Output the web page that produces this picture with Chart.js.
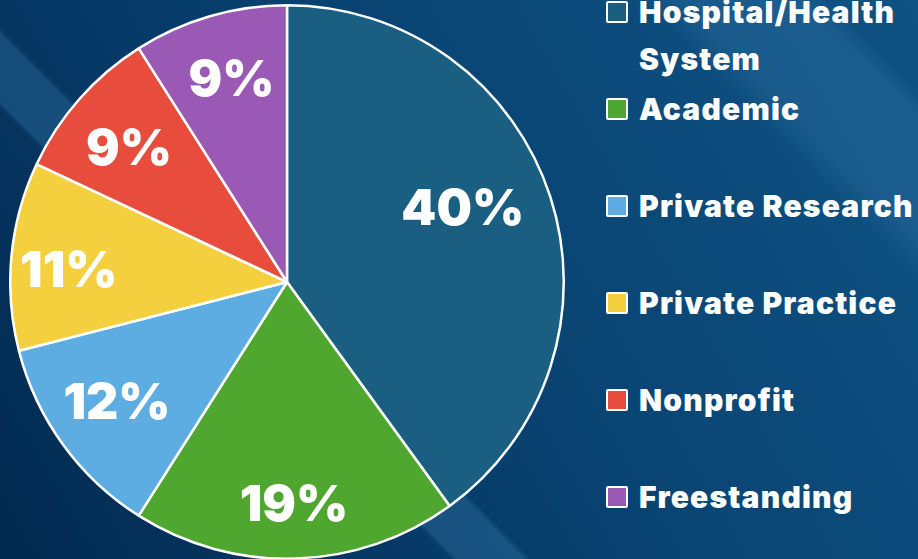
<!DOCTYPE html>
<html>
<head>
  <meta charset="UTF-8">
  <title>Organization Type Pie</title>
  <script src="https://cdn.jsdelivr.net/npm/chart.js"></script>
  <style>
    html, body { margin: 0; padding: 0; }
    #stage {
      position: relative; width: 918px; height: 559px; overflow: hidden;
      background:
        linear-gradient(45deg, rgba(255,255,255,0) 0%, rgba(255,255,255,0) 30.5%,
          rgba(70,140,190,0.28) 31%, rgba(70,140,190,0.28) 35.5%, rgba(255,255,255,0) 36%,
          rgba(255,255,255,0) 81%, rgba(70,140,190,0.22) 84%, rgba(70,140,190,0.22) 92%, rgba(255,255,255,0) 94%),
        linear-gradient(60deg, #022a50 0%, #063a68 35%, #0a4675 60%, #0e5384 100%);
      font-family: "Inter", "DejaVu Sans", sans-serif;
    }
    #pieBox { position: absolute; left: 9px; top: 4px; width: 556px; height: 556px; }
    #legend { position: absolute; left: 606px; top: -11px; margin: 0; padding: 0; list-style: none; }
    #legend li { position: relative; height: 97px; padding-left: 33px; color: #fff;
      font-weight: 900; font-size: 30px; letter-spacing: 1.2px; line-height: 47px; width: 300px; }
    #legend li span.box { position: absolute; left: 0; top: 12px; width: 18px; height: 18px;
      border: 2px solid #fff; border-radius: 2px; }
  </style>
</head>
<body>
  <div id="stage">
    <div id="pieBox"><canvas id="pie"></canvas></div>
    <ul id="legend"></ul>
  </div>

  <script>
    const labels = ["Hospital/Health System", "Academic", "Private Research", "Private Practice", "Nonprofit", "Freestanding"];
    const shares = [40, 19, 12, 11, 9, 9];
    const colors = ["#1a5f82", "#4fa72f", "#5dade2", "#f4d03f", "#e74c3c", "#9b59b6"];

    // labels sit at different depths / turns inside each slice
    const labelDepth = [0.69, 0.80, 0.75, 0.79, 0.75, 0.765];
    const labelTurn = [-5, 0, 1, -2, -1, 1];

    const pctLabels = {
      id: 'pctLabels',
      afterDatasetsDraw(chart) {
        const ctx = chart.ctx;
        const meta = chart.getDatasetMeta(0);
        ctx.save();
        ctx.fillStyle = '#fff';
        ctx.font = '900 50px Inter, "DejaVu Sans", sans-serif';
        ctx.textAlign = 'center';
        ctx.textBaseline = 'alphabetic';
        meta.data.forEach((arc, i) => {
          const p = arc.getProps(['x', 'y', 'startAngle', 'endAngle', 'outerRadius'], true);
          const mid = (p.startAngle + p.endAngle) / 2 + labelTurn[i] * Math.PI / 180;
          const r = p.outerRadius * labelDepth[i];
          const x = p.x + Math.cos(mid) * r;
          const y = p.y + Math.sin(mid) * r;
          ctx.fillText(shares[i] + '%', x, y + 50 * 0.36);
        });
        ctx.restore();
      }
    };

    new Chart(document.getElementById('pie'), {
      type: 'pie',
      data: {
        labels: labels,
        datasets: [{
          data: shares,
          backgroundColor: colors,
          borderColor: '#ffffff',
          borderWidth: 2.5
        }]
      },
      options: {
        responsive: true,
        maintainAspectRatio: false,
        animation: false,
        plugins: {
          legend: { display: false },
          tooltip: { enabled: false }
        }
      },
      plugins: [pctLabels]
    });

    const legend = document.getElementById('legend');
    labels.forEach((name, i) => {
      const li = document.createElement('li');
      const box = document.createElement('span');
      box.className = 'box';
      box.style.background = colors[i];
      li.appendChild(box);
      li.appendChild(document.createTextNode(name));
      legend.appendChild(li);
    });
  </script>
</body>
</html>
